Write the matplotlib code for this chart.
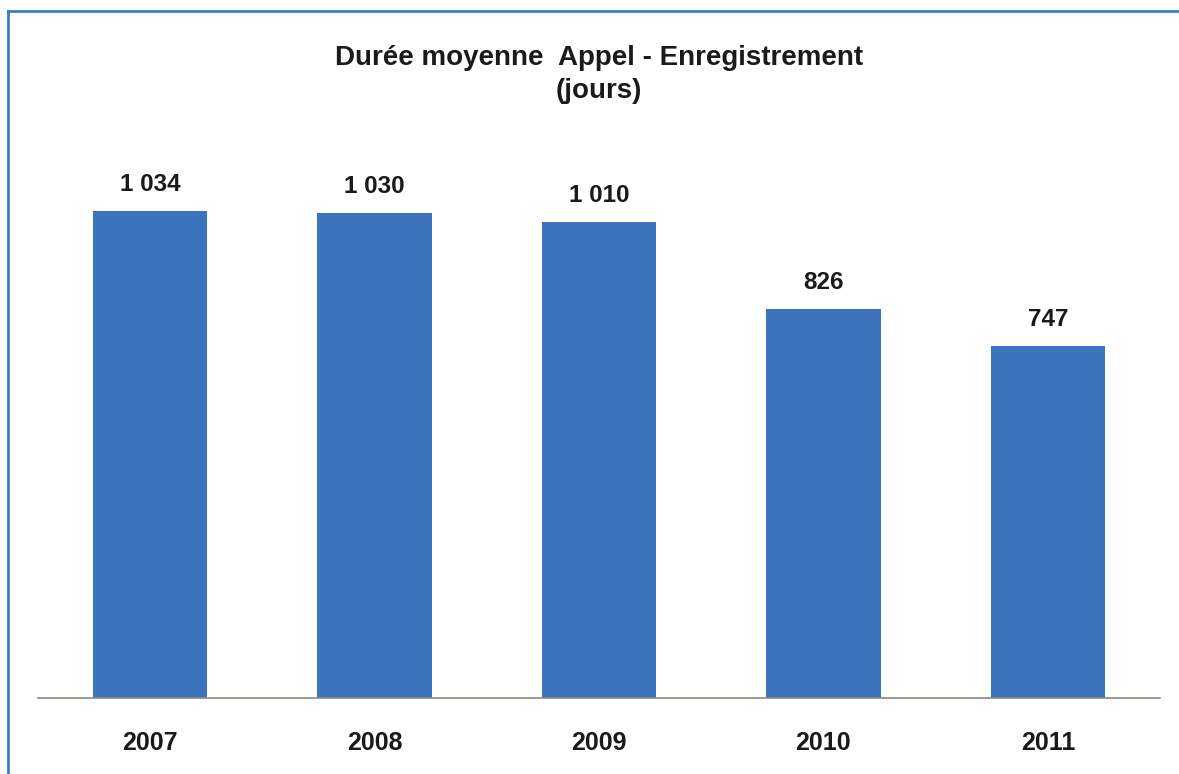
import matplotlib.pyplot as plt
from matplotlib.lines import Line2D

plt.rcParams['font.family'] = ['Liberation Sans', 'DejaVu Sans']

years = ['2007', '2008', '2009', '2010', '2011']
durations = [1034, 1030, 1010, 826, 747]
value_labels = ['1 034', '1 030', '1 010', '826', '747']

fig = plt.figure(figsize=(11.79, 7.74), dpi=100)
ax = fig.add_axes([0.0322, 0.0982, 0.9517, 0.695])

x = range(len(years))
bars = ax.bar(x, durations, width=0.51, color='#3B73BD', zorder=2)
ax.set_xlim(-0.5, 4.5)
ax.set_ylim(0, 1142)

for rect, lab in zip(bars, value_labels):
    ax.annotate(lab, (rect.get_x() + rect.get_width() / 2, rect.get_height()),
                xytext=(0, 11), textcoords='offset points', ha='center', va='bottom',
                fontsize=17.5, fontweight='bold', color='#1a1a1a')

ax.set_xticks(list(x))
ax.set_xticklabels(years, fontsize=18, fontweight='bold', color='#1a1a1a')
ax.tick_params(axis='x', length=0, pad=24)
ax.set_yticks([])
for side in ['top', 'right', 'left']:
    ax.spines[side].set_visible(False)
ax.spines['bottom'].set_color('#8a8a7a')
ax.spines['bottom'].set_linewidth(1.2)

fig.text(0.508, 0.904, 'Durée moyenne  Appel - Enregistrement\n(jours)',
         ha='center', va='center', fontsize=20, fontweight='bold',
         color='#1a1a1a', linespacing=1.32)

# frame border (left and top only visible)
fig.add_artist(Line2D([8 / 1179, 8 / 1179], [0, 1 - 11 / 774],
                      transform=fig.transFigure, color='#3A7CC8', lw=2))
fig.add_artist(Line2D([8 / 1179, 1], [1 - 11 / 774, 1 - 11 / 774],
                      transform=fig.transFigure, color='#3A7CC8', lw=2))

plt.savefig('out.png', dpi=100)
